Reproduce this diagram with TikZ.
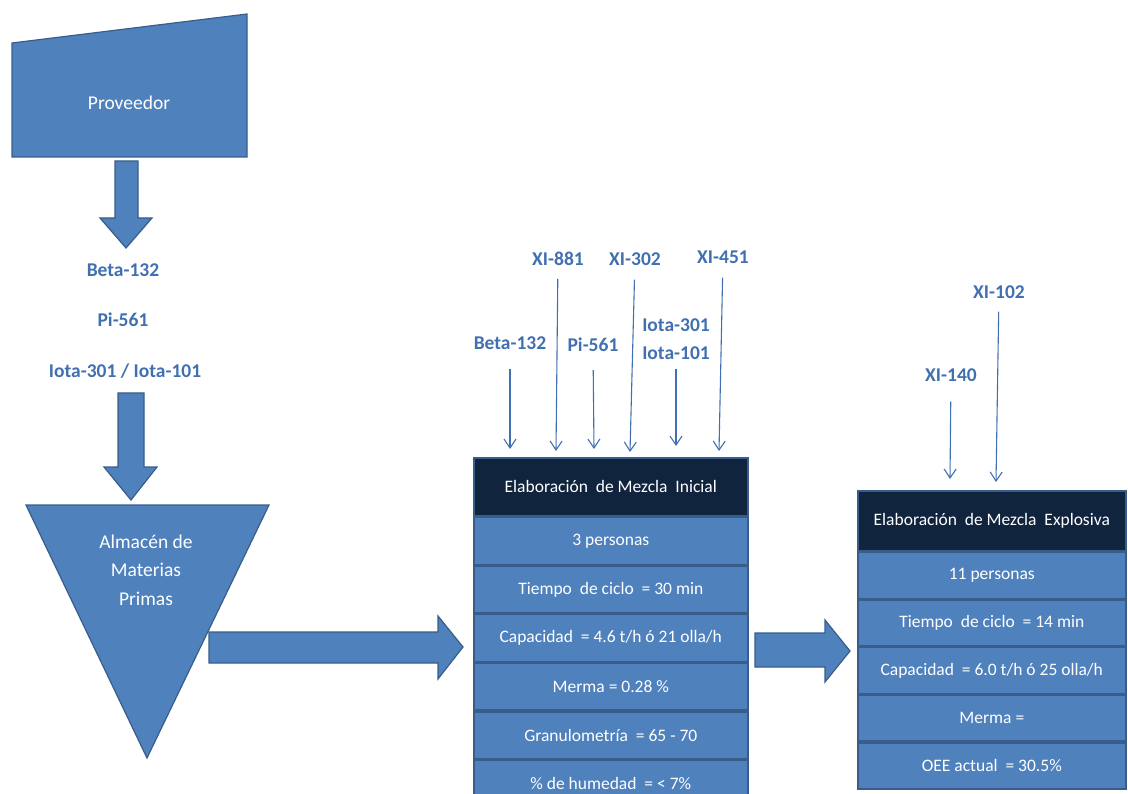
\documentclass[tikz,border=0pt]{standalone}
\usepackage{fontspec}
\setmainfont{Carlito}
\usetikzlibrary{arrows.meta}
\definecolor{flowblue}{RGB}{79,129,189}
\definecolor{flowedge}{RGB}{56,93,138}
\definecolor{headnavy}{RGB}{17,36,62}
\definecolor{labelblue}{RGB}{64,112,176}
\tikzset{
  blockshape/.style={fill=flowblue, draw=flowedge, line width=1.2pt, line join=miter},
  shapetext/.style={text=white, font=\fontsize{19.5}{28.5}\selectfont, align=center},
  rowbox/.style={rectangle, draw=flowedge, fill=flowblue, line width=1.6pt,
    inner sep=0pt, text=white, font=\fontsize{17.5}{20}\selectfont},
  headbox/.style={rowbox, fill=headnavy, draw=flowedge},
  matlabel/.style={text=labelblue, inner sep=0pt, align=center,
    font=\bfseries\fontsize{19.5}{28}\selectfont},
  feed/.style={draw=labelblue, line width=1.1pt,
    -{Straight Barb[length=9pt,width=12pt,line width=1.1pt]}}
}
\begin{document}
\begin{tikzpicture}[x=1pt,y=-1pt]
\useasboundingbox (0,0) rectangle (1128,794);

% ---- supplier and raw-material store ----
\draw[blockshape] (12,43) -- (247,14) -- (247,157) -- (12,157) -- cycle;
\node[shapetext] (prov) at (129,103) {Proveedor};

\draw[blockshape] (115,161) -- (138,161) -- (138,218) -- (152,218) -- (126,248)
  -- (100,218) -- (115,218) -- cycle;

\node[matlabel] (mBeta) at (123,270) {Beta-132};
\node[matlabel] (mPi)   at (123,320) {Pi-561};
\node[matlabel] (mIota) at (125,371) {Iota-301 / Iota-101};

\draw[blockshape] (118,393) -- (144,393) -- (144,467) -- (157,467) -- (131,500)
  -- (104,467) -- (118,467) -- cycle;

\draw[blockshape] (26,505) -- (269,505) -- (147,758) -- cycle;
\node[shapetext] (store) at (146,570) {Almacén de\\Materias\\Primas};

\draw[blockshape] (209,632) -- (438,632) -- (438,616) -- (463,647) -- (438,679)
  -- (438,663) -- (209,663) -- cycle;

% ---- initial mix station ----
\node[headbox, anchor=north west, minimum width=274pt, minimum height=58pt]
  (h1) at (473,457) {Elaboración\ \ de Mezcla\ \ Inicial};
\node[rowbox, anchor=north, minimum width=274pt, minimum height=47pt] (a1) at (h1.south) {3 personas};
\node[rowbox, anchor=north, minimum width=274pt, minimum height=47pt] (a2) at (a1.south) {Tiempo\ \ de ciclo\ \ = 30 min};
\node[rowbox, anchor=north, minimum width=274pt, minimum height=47pt] (a3) at (a2.south) {Capacidad\ \ = 4.6 t/h ó 21 olla/h};
\node[rowbox, anchor=north, minimum width=274pt, minimum height=47pt] (a4) at (a3.south) {Merma = 0.28 \%};
\node[rowbox, anchor=north, minimum width=274pt, minimum height=47pt] (a5) at (a4.south) {Granulometría\ \ = 65 - 70};
\node[rowbox, anchor=north, minimum width=274pt, minimum height=47pt] (a6) at (a5.south) {\% de humedad\ \ = < 7\%};

% inputs of the initial mix
\node[matlabel] (iBeta) at (510,343) {Beta-132};
\node[matlabel] (iX881) at (558,259) {XI-881};
\node[matlabel] (iPi)   at (593,345) {Pi-561};
\node[matlabel] (iX302) at (635,259) {XI-302};
\node[matlabel] (iIota) at (676,339) {Iota-301\\Iota-101};
\node[matlabel] (iX451) at (723,257) {XI-451};

\coordinate (tBeta) at (510,449);
\coordinate (tX881) at (556,451);
\coordinate (tPi)   at (594,449);
\coordinate (tX302) at (630,452);
\coordinate (tIota) at (676,446);
\coordinate (tX451) at (719,451);

\draw[feed, shorten <=19pt] (iBeta) -- (tBeta);
\draw[feed, shorten <=13pt] (iX881) -- (tX881);
\draw[feed, shorten <=18pt] (iPi)   -- (tPi);
\draw[feed, shorten <=14pt] (iX302) -- (tX302);
\draw[feed, shorten <=9pt]  (iIota) -- (tIota);
\draw[feed, shorten <=14pt] (iX451) -- (tX451);

\draw[blockshape] (755,633) -- (825,633) -- (825,620) -- (850,651) -- (825,682)
  -- (825,667) -- (755,667) -- cycle;

% ---- explosive mix station ----
\node[headbox, anchor=north west, minimum width=268pt, minimum height=60pt]
  (h2) at (857,490) {Elaboración\ \ de Mezcla\ \ Explosiva};
\node[rowbox, anchor=north, minimum width=268pt, minimum height=46pt] (b1) at (h2.south) {11 personas};
\node[rowbox, anchor=north, minimum width=268pt, minimum height=46pt] (b2) at (b1.south) {Tiempo\ \ de ciclo\ \ = 14 min};
\node[rowbox, anchor=north, minimum width=268pt, minimum height=46pt] (b3) at (b2.south) {Capacidad\ \ = 6.0 t/h ó 25 olla/h};
\node[rowbox, anchor=north, minimum width=268pt, minimum height=46pt] (b4) at (b3.south) {Merma =};
\node[rowbox, anchor=north, minimum width=268pt, minimum height=46pt] (b5) at (b4.south) {OEE actual\ \ = 30.5\%};

\node[matlabel] (eX140) at (951,375) {XI-140};
\node[matlabel] (eX102) at (999,292) {XI-102};
\coordinate (tX140) at (950,479);
\coordinate (tX102) at (996,482);
\draw[feed, shorten <=20pt] (eX140) -- (tX140);
\draw[feed, shorten <=13pt] (eX102) -- (tX102);
\end{tikzpicture}
\end{document}
